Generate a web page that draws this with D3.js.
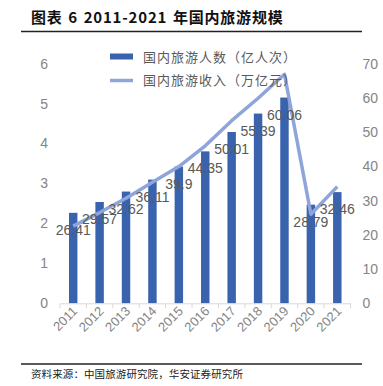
<!DOCTYPE html>
<html><head><meta charset="utf-8">
<script src="https://cdn.jsdelivr.net/npm/d3@7"></script>
<style>html,body{margin:0;padding:0;background:#fff;}svg{display:block;}</style>
</head><body><div id="chart"></div>
<script>
const years = ["2011","2012","2013","2014","2015","2016","2017","2018","2019","2020","2021"];
const visitors = [26.41,29.57,32.62,36.11,39.9,44.35,50.01,55.39,60.06,28.79,32.46];
const revenue = [1.93,2.27,2.63,3.03,3.42,3.94,4.57,5.13,5.73,2.23,2.92];
const leftTicks = [0,1,2,3,4,5,6];
const rightTicks = [0,10,20,30,40,50,60,70];
const legendLabels = ["国内旅游人数（亿人次）","国内旅游收入（万亿元）"];
const titleText = "图表 6 2011-2021 年国内旅游规模";
const sourceText = "资料来源：中国旅游研究院，华安证券研究所";

const W = 383, H = 386;
const barColor = "#3A63AE", lineColor = "#8EA4DA", tickColor = "#858585", labelColor = "#595959";
const svg = d3.select("#chart").append("svg").attr("width", W).attr("height", H);

// title
svg.append("text").attr("x", 31).attr("y", 23).text(titleText)
  .attr("font-family", "'Noto Sans CJK SC', sans-serif").attr("font-weight", "bold")
  .attr("font-size", 15).attr("letter-spacing", 0.8).attr("word-spacing", 1.5).attr("fill", "#111");
svg.append("line").attr("x1", 21).attr("x2", 362).attr("y1", 31.5).attr("y2", 31.5)
  .attr("stroke", "#222").attr("stroke-width", 1.3);

const x = d3.scaleBand().domain(years).range([60, 350.5]).paddingInner(0.68).paddingOuter(0.34);
const yL = d3.scaleLinear().domain([0, 6]).range([303.3, 63.5]);
const yR = d3.scaleLinear().domain([0, 70]).range([303.3, 63.5]);

// left axis labels
svg.append("g").selectAll("text").data(leftTicks).join("text")
  .attr("x", 48).attr("y", d => yL(d)).attr("dy", "0.36em").attr("text-anchor", "end")
  .attr("font-family", "'Liberation Sans', sans-serif").attr("font-size", 14).attr("fill", tickColor)
  .text(d => d);
// right axis labels
svg.append("g").selectAll("text").data(rightTicks).join("text")
  .attr("x", 362.5).attr("y", d => yR(d)).attr("dy", "0.36em").attr("text-anchor", "start")
  .attr("font-family", "'Liberation Sans', sans-serif").attr("font-size", 14).attr("fill", tickColor)
  .text(d => d);

// bars
svg.append("g").selectAll("rect").data(years).join("rect")
  .attr("x", d => x(d)).attr("width", x.bandwidth())
  .attr("y", (d, i) => yR(visitors[i])).attr("height", (d, i) => yR(0) - yR(visitors[i]))
  .attr("fill", barColor);

// x axis
const xAxis = d3.axisBottom(x).tickSize(0).tickValues([]);
const gx = svg.append("g").attr("transform", `translate(0,${yR(0)})`).call(xAxis);
gx.select(".domain").attr("stroke", "#d9d9d9").attr("stroke-width", 1);
const bounds = [0].concat(years.map((d, i) => i + 1));
gx.selectAll(".bt").data(bounds).join("line").attr("class", "bt")
  .attr("x1", d => x.range()[0] + d * x.step()).attr("x2", d => x.range()[0] + d * x.step())
  .attr("y1", 0).attr("y2", 5).attr("stroke", "#d9d9d9");
svg.append("g").selectAll("text").data(years).join("text")
  .attr("x", d => x(d) + x.bandwidth() / 2 + 5).attr("y", 312)
  .attr("transform", d => `rotate(-45,${x(d) + x.bandwidth() / 2 + 5},312)`)
  .attr("text-anchor", "end")
  .attr("font-family", "'Liberation Sans', sans-serif").attr("font-size", 13).attr("fill", tickColor)
  .text(d => d);

// line
const line = d3.line().x((d, i) => x(years[i]) + x.bandwidth() / 2).y(d => yL(d));
svg.append("path").datum(revenue).attr("d", line).attr("fill", "none")
  .attr("stroke", lineColor).attr("stroke-width", 3.5).attr("stroke-linejoin", "round");

// data labels
svg.append("g").selectAll("text").data(years).join("text")
  .attr("x", d => x(d) + x.bandwidth() / 2).attr("y", (d, i) => yR(visitors[i]) + 22)
  .attr("text-anchor", "middle")
  .attr("font-family", "'Liberation Sans', sans-serif").attr("font-size", 14).attr("fill", labelColor)
  .text((d, i) => visitors[i]);

// legend
const lg = svg.append("g");
lg.append("rect").attr("x", 110).attr("y", 53.5).attr("width", 23).attr("height", 6).attr("fill", barColor);
lg.append("line").attr("x1", 110).attr("x2", 133).attr("y1", 80.5).attr("y2", 80.5)
  .attr("stroke", lineColor).attr("stroke-width", 3.5);
lg.selectAll("text").data(legendLabels).join("text")
  .attr("x", 143).attr("y", (d, i) => 57 + i * 23.5).attr("dy", "0.36em")
  .attr("font-family", "'Noto Sans CJK SC', sans-serif").attr("font-size", 13)
  .attr("letter-spacing", 1).attr("fill", labelColor).text(d => d);

// footer
svg.append("line").attr("x1", 21).attr("x2", 362).attr("y1", 364).attr("y2", 364)
  .attr("stroke", "#222").attr("stroke-width", 1.3);
svg.append("text").attr("x", 31).attr("y", 374).attr("dy", "0.36em").text(sourceText)
  .attr("font-family", "'Noto Sans CJK SC', sans-serif").attr("font-size", 10.5)
  .attr("letter-spacing", 0.1).attr("fill", "#222");
</script></body></html>
